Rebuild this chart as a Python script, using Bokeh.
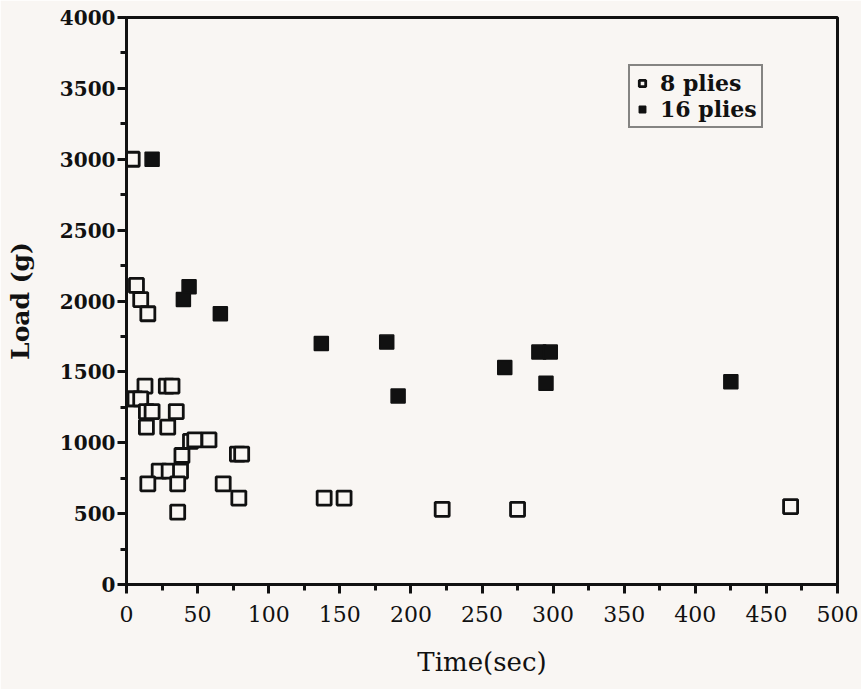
from bokeh.plotting import figure
from bokeh.models import Range1d, SingleIntervalTicker, Legend, LegendItem
from bokeh.embed import file_html
from bokeh.resources import INLINE

# 8 plies (open squares)
x8 = [4, 7, 10, 15, 13, 28, 32, 3, 6, 10, 14, 18, 35, 14, 29, 45, 48, 58,
      39, 23, 30, 38, 15, 36, 36, 78, 81, 68, 79, 139, 153, 222, 275, 467]
y8 = [3000, 2110, 2010, 1910, 1400, 1400, 1400, 1310, 1310, 1310, 1220, 1220, 1220, 1110, 1110, 1010, 1020, 1020,
      910, 800, 800, 800, 710, 710, 510, 920, 920, 710, 610, 610, 610, 530, 530, 550]

# 16 plies (filled squares)
x16 = [18, 44, 40, 66, 137, 183, 191, 266, 290, 298, 295, 425]
y16 = [3000, 2100, 2010, 1910, 1700, 1710, 1330, 1530, 1640, 1640, 1420, 1430]

x_ticks_interval = 50
y_ticks_interval = 500

BG = "#f9f6f3"
INK = "#111111"
SERIF = "DejaVu Serif"

p = figure(width=861, height=689, output_backend="svg", toolbar_location=None,
           x_range=Range1d(0, 500), y_range=Range1d(0, 4000),
           min_border_left=126, min_border_right=24, min_border_top=17, min_border_bottom=105,
           background_fill_color=BG, border_fill_color=BG)

p.xgrid.visible = False
p.ygrid.visible = False
p.outline_line_color = INK
p.outline_line_width = 3
p.outline_line_alpha = 1

r8 = p.scatter(x8, y8, marker="square", size=14, line_width=2.8,
               line_color=INK, fill_color=BG)
r16 = p.scatter(x16, y16, marker="square", size=14, line_width=1.5,
                line_color=INK, fill_color=INK)

p.xaxis.ticker = SingleIntervalTicker(interval=x_ticks_interval, num_minor_ticks=2)
p.yaxis.ticker = SingleIntervalTicker(interval=y_ticks_interval, num_minor_ticks=2)

for ax in (p.xaxis[0], p.yaxis[0]):
    ax.axis_line_color = INK
    ax.axis_line_width = 3
    ax.major_tick_line_color = INK
    ax.major_tick_line_width = 3
    ax.minor_tick_line_color = INK
    ax.minor_tick_line_width = 3
    ax.major_tick_out = 9
    ax.major_tick_in = 0
    ax.minor_tick_out = 6
    ax.minor_tick_in = 0
    ax.major_label_text_color = INK
    ax.axis_label_text_color = INK
    ax.major_label_text_font = SERIF
    ax.axis_label_text_font = SERIF

p.yaxis.major_label_text_font_size = "20px"
p.yaxis.major_label_text_font_style = "bold"
p.yaxis.major_label_standoff = 2
p.yaxis.axis_label = "Load (g)"
p.yaxis.axis_label_text_font_size = "25px"
p.yaxis.axis_label_text_font_style = "bold"
p.yaxis.axis_label_standoff = 22

p.xaxis.major_label_text_font_size = "22px"
p.xaxis.major_label_text_font_style = "normal"
p.xaxis.major_label_standoff = 12
p.xaxis.axis_label = "Time(sec)"
p.xaxis.axis_label_text_font_size = "26px"
p.xaxis.axis_label_text_font_style = "normal"
p.xaxis.axis_label_standoff = 22

legend = Legend(items=[LegendItem(label="8 plies", renderers=[r8]),
                       LegendItem(label="16 plies", renderers=[r16])],
                location=(502, 456))
legend.label_text_font = SERIF
legend.label_text_font_style = "bold"
legend.label_text_font_size = "22px"
legend.label_text_color = INK
legend.border_line_color = INK
legend.border_line_width = 2.5
legend.background_fill_color = BG
legend.background_fill_alpha = 1
legend.padding = 4
legend.spacing = 0
legend.margin = 0
legend.glyph_width = 16
legend.glyph_height = 16
legend.label_standoff = 10
legend.label_height = 26
p.add_layout(legend)

open("out.html", "w").write(file_html(p, INLINE))
